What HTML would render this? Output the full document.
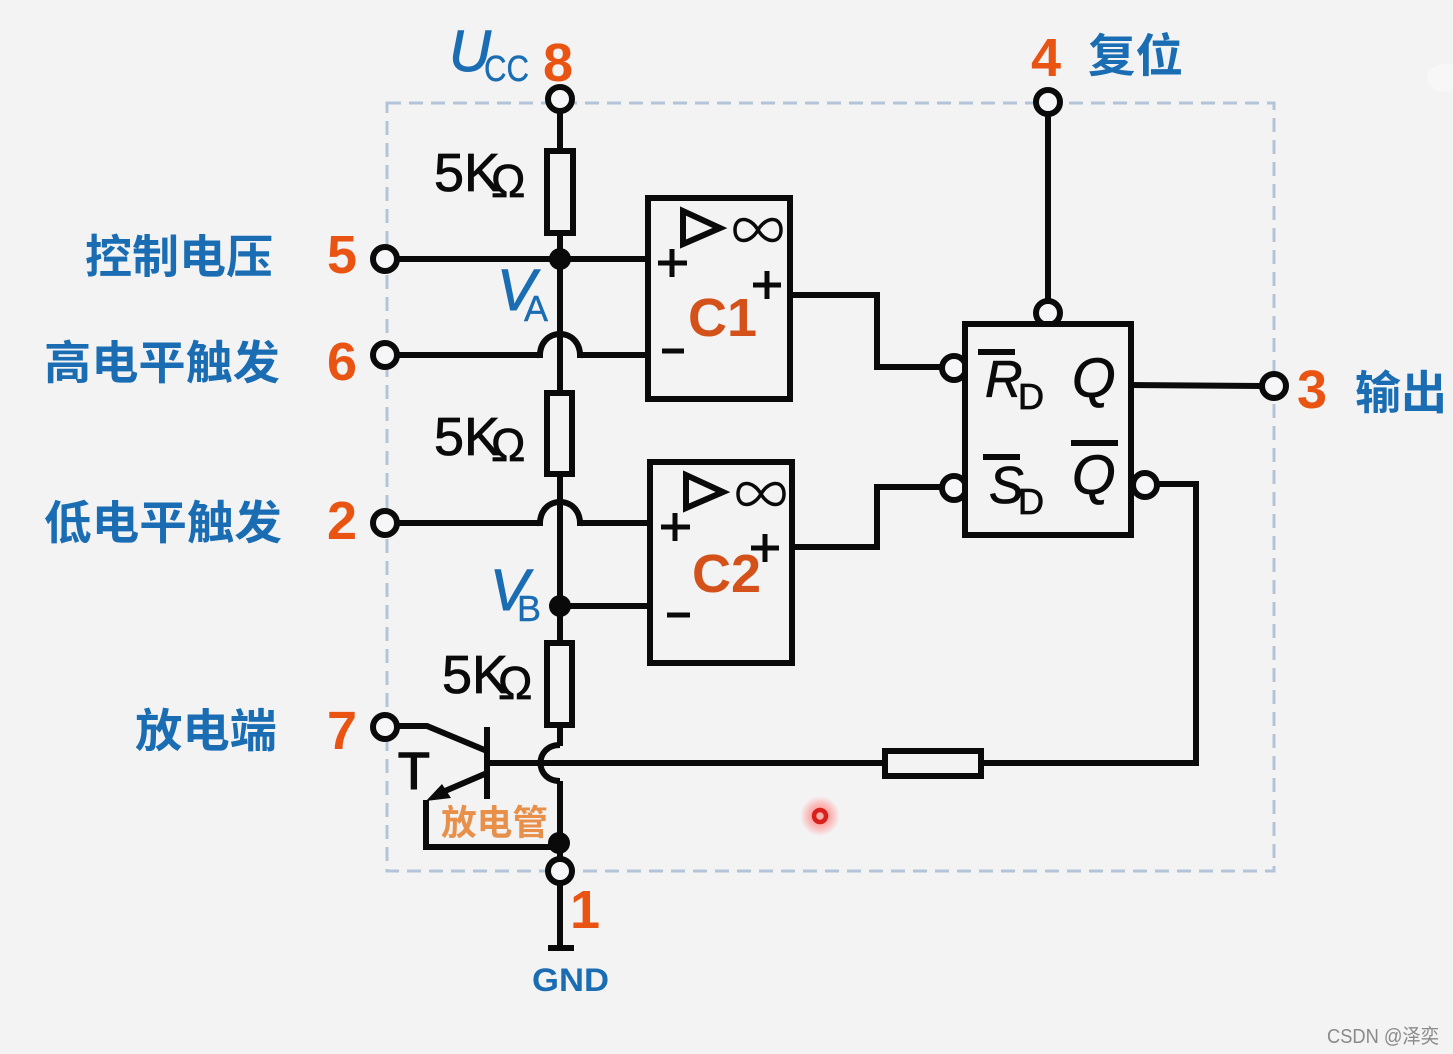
<!DOCTYPE html>
<html>
<head>
<meta charset="utf-8">
<style>
html,body{margin:0;padding:0;background:#f3f3f4;width:1453px;height:1054px;overflow:hidden}
svg{display:block}
text{font-family:"Liberation Sans","Noto Sans CJK SC",sans-serif}
.cn{fill:#1a6db3;font-size:46px;font-weight:700}
.num{fill:#ea5413;font-size:54px;font-weight:700}
.blk{fill:#0a0a0a;stroke:#0a0a0a;stroke-width:.8}
.w{fill:none;stroke:#0a0a0a;stroke-width:6}
.c{fill:#f6f6f8;stroke:#0a0a0a;stroke-width:6}
.t{fill:#1a6db3;stroke:#1a6db3;stroke-width:1;font-style:italic;font-size:58px}
.s{fill:#1a6db3;stroke:#1a6db3;stroke-width:.4;font-size:36px}
</style>
</head>
<body>
<svg width="1453" height="1054" viewBox="0 0 1453 1054" xmlns="http://www.w3.org/2000/svg">
<defs>
<radialGradient id="halo"><stop offset="0" stop-color="#fb8f90"/><stop offset=".55" stop-color="#fcb4b4"/><stop offset="1" stop-color="#f3f3f4"/></radialGradient>
</defs>
<rect width="1453" height="1054" fill="#f3f3f4"/>
<ellipse cx="1445" cy="78" rx="18" ry="14" fill="#f7f7f7"/>
<rect x="387" y="103" width="887" height="768" fill="none" stroke="#b4c4d8" stroke-width="3" stroke-dasharray="14 8"/>

<!-- wires -->
<path class="w" d="M560 110V746M560 781V860M560 882V948M548 948H574"/>
<path class="w" d="M396 259H648M396 355H543M577 355H648M396 523H543M577 523H650M560 606H650"/>
<path class="w" d="M540 358C538 326 582 326 580 358M540 526C538 494 582 494 580 526M560 745C534 745 534 781 560 781"/>
<path class="w" d="M790 295H877V367H942M792 547H877V487H942"/>
<path class="w" d="M1048 114V302M1131 385L1262 386M1157 484H1196V763H981M885 763H490"/>
<path class="w" d="M397 726H427L487 751M487 727V799M487 773L438 794M426 800V847H560"/>
<path d="M426 801L442 784L451 798Z" fill="#0a0a0a"/>

<!-- resistors -->
<rect class="w" x="547" y="151" width="26" height="82" style="fill:#f3f3f4"/>
<rect class="w" x="547" y="393" width="25" height="81" style="fill:#f3f3f4"/>
<rect class="w" x="547" y="643" width="25" height="82" style="fill:#f3f3f4"/>
<rect class="w" x="885" y="751" width="96" height="25" style="fill:#f3f3f4"/>

<!-- comparators -->
<rect class="w" x="648" y="198" width="142" height="201" style="fill:#f3f3f4"/>
<rect class="w" x="650" y="462" width="142" height="201" style="fill:#f3f3f4"/>
<path class="w" d="M683 211V244L720 228Z"/>
<path class="w" d="M686 475V508L723 492Z"/>
<g class="w" style="stroke-width:5">
<path d="M658 263H687M672 249V277M753 285H781M767 271V299M662 351H684"/>
<path d="M661 527H690M675 513V541M751 548H779M765 534V562M667 615H690"/>
</g>
<path class="w" style="stroke-width:3.5" d="M758 230C750 216 735 216 735 230C735 244 750 244 758 230C766 216 781 216 781 230C781 244 766 244 758 230Z"/>
<path class="w" style="stroke-width:3.5" d="M761 494C753 480 738 480 738 494C738 508 753 508 761 494C769 480 784 480 784 494C784 508 769 508 761 494Z"/>
<text x="688" y="336" font-size="54" font-weight="700" fill="#d4521a">C1</text>
<text x="692" y="592" font-size="54" font-weight="700" fill="#d4521a">C2</text>

<!-- flip-flop -->
<circle class="c" cx="1048" cy="313" r="12"/>
<circle class="c" cx="954" cy="368" r="12"/>
<circle class="c" cx="954" cy="488" r="12"/>
<circle class="c" cx="1145" cy="485" r="12"/>
<rect class="w" x="965" y="324" width="166" height="211" style="fill:#f3f3f4"/>
<path class="w" d="M978 352H1015M983 457H1020M1071 443H1118"/>
<text class="blk" x="985" y="397" font-size="52" font-style="italic">R</text>
<text class="blk" x="1018" y="409" font-size="36">D</text>
<text class="blk" x="1072" y="397" font-size="56" font-style="italic">Q</text>
<text class="blk" x="989" y="503" font-size="52" font-style="italic">S</text>
<text class="blk" x="1018" y="514" font-size="36">D</text>
<text class="blk" x="1072" y="494" font-size="56" font-style="italic">Q</text>

<!-- terminals -->
<circle class="c" cx="560" cy="99" r="12"/>
<circle class="c" cx="385" cy="259" r="12"/>
<circle class="c" cx="385" cy="355" r="12"/>
<circle class="c" cx="385" cy="523" r="12"/>
<circle class="c" cx="385" cy="727" r="12"/>
<circle class="c" cx="560" cy="871" r="12"/>
<circle class="c" cx="1048" cy="102" r="12"/>
<circle class="c" cx="1274" cy="386" r="12"/>
<circle cx="560" cy="259" r="11" fill="#0a0a0a"/>
<circle cx="560" cy="606" r="11" fill="#0a0a0a"/>
<circle cx="559" cy="843" r="11" fill="#0a0a0a"/>

<!-- resistor labels -->
<text class="blk" x="434" y="191" font-size="54">5K</text>
<text class="blk" x="491" y="197" font-size="46">Ω</text>
<text class="blk" x="434" y="455" font-size="54">5K</text>
<text class="blk" x="491" y="461" font-size="46">Ω</text>
<text class="blk" x="442" y="693" font-size="54">5K</text>
<text class="blk" x="498" y="699" font-size="46">Ω</text>
<text class="blk" x="398" y="789" font-size="52" style="stroke-width:1.5">T</text>

<!-- blue labels -->
<text class="t" x="449" y="71">U</text>
<text class="s" x="484" y="81" textLength="45" lengthAdjust="spacingAndGlyphs">CC</text>
<text class="t" x="497" y="310">V</text>
<text class="s" x="524" y="321">A</text>
<text class="t" x="490" y="610">V</text>
<text class="s" x="517" y="621">B</text>
<text class="cn" x="85" y="273" textLength="188" lengthAdjust="spacingAndGlyphs">控制电压</text>
<text class="cn" x="44" y="379" textLength="236" lengthAdjust="spacingAndGlyphs">高电平触发</text>
<text class="cn" x="44" y="539" textLength="238" lengthAdjust="spacingAndGlyphs">低电平触发</text>
<text class="cn" x="135" y="747" textLength="142" lengthAdjust="spacingAndGlyphs">放电端</text>
<text class="cn" x="1088" y="72" textLength="95" lengthAdjust="spacingAndGlyphs">复位</text>
<text class="cn" x="1355" y="409" textLength="92" lengthAdjust="spacingAndGlyphs">输出</text>
<text x="532" y="991" font-size="32" font-weight="700" fill="#1a6db3" textLength="77" lengthAdjust="spacingAndGlyphs">GND</text>

<!-- orange numbers -->
<text class="num" x="327" y="273">5</text>
<text class="num" x="327" y="380">6</text>
<text class="num" x="327" y="539">2</text>
<text class="num" x="327" y="749">7</text>
<text class="num" x="543" y="81">8</text>
<text class="num" x="1031" y="76">4</text>
<text class="num" x="1297" y="408">3</text>
<text class="num" x="570" y="928">1</text>
<text x="441" y="835" font-size="35" font-weight="700" fill="#e8904a" textLength="107" lengthAdjust="spacingAndGlyphs">放电管</text>

<!-- pointer -->
<circle cx="820" cy="816" r="20" fill="url(#halo)"/>
<circle cx="820" cy="816" r="6" fill="#f7b0a8" stroke="#d8201c" stroke-width="4.5"/>

<!-- watermark -->
<text x="1327" y="1043" font-size="20" fill="#8a8a8a" textLength="112" lengthAdjust="spacingAndGlyphs">CSDN @泽奕</text>
</svg>
</body>
</html>
